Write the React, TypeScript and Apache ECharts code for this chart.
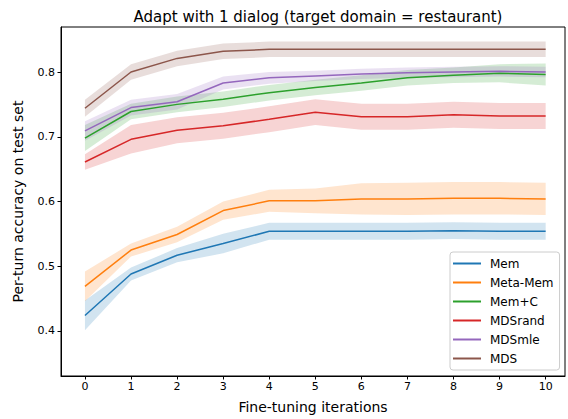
import React, { useEffect, useRef } from "react";
import * as echarts from "echarts";

const iterations = [0, 1, 2, 3, 4, 5, 6, 7, 8, 9, 10];
const seriesNames = ["Mem", "Meta-Mem", "Mem+C", "MDSrand", "MDSmle", "MDS"];
const colors = ["#1f77b4", "#ff7f0e", "#2ca02c", "#d62728", "#9467bd", "#8c564b"];

const memMean = [0.424, 0.488, 0.517, 0.535, 0.554, 0.554, 0.554, 0.554, 0.555, 0.554, 0.554];
const memErr = [0.023, 0.01, 0.011, 0.015, 0.013, 0.013, 0.013, 0.013, 0.013, 0.013, 0.013];
const metaMean = [0.469, 0.525, 0.549, 0.586, 0.601, 0.601, 0.604, 0.604, 0.605, 0.605, 0.604];
const metaErr = [0.023, 0.01, 0.012, 0.014, 0.017, 0.019, 0.024, 0.025, 0.025, 0.025, 0.025];
const memCMean = [0.698, 0.739, 0.75, 0.758, 0.768, 0.776, 0.783, 0.791, 0.795, 0.798, 0.796];
const memCErr = [0.02, 0.012, 0.012, 0.012, 0.012, 0.012, 0.012, 0.012, 0.012, 0.014, 0.017];
const randMean = [0.661, 0.696, 0.71, 0.717, 0.727, 0.738, 0.731, 0.731, 0.734, 0.732, 0.732];
const randErr = [0.012, 0.022, 0.02, 0.02, 0.02, 0.02, 0.02, 0.02, 0.02, 0.02, 0.02];
const mleMean = [0.709, 0.745, 0.754, 0.783, 0.791, 0.794, 0.797, 0.799, 0.8, 0.801, 0.8];
const mleErr = [0.015, 0.012, 0.012, 0.01, 0.009, 0.008, 0.008, 0.008, 0.008, 0.008, 0.008];
const mdsMean = [0.744, 0.8, 0.821, 0.832, 0.835, 0.835, 0.835, 0.835, 0.835, 0.835, 0.835];
const mdsErr = [0.013, 0.012, 0.012, 0.012, 0.012, 0.012, 0.012, 0.012, 0.012, 0.012, 0.012];

const means = [memMean, metaMean, memCMean, randMean, mleMean, mdsMean];
const errs = [memErr, metaErr, memCErr, randErr, mleErr, mdsErr];

const xTicks = [0, 1, 2, 3, 4, 5, 6, 7, 8, 9, 10];
const yTicks = [0.4, 0.5, 0.6, 0.7, 0.8];

const FONT = "DejaVu Sans";

export default function App() {
  const ref = useRef<HTMLDivElement>(null);
  useEffect(() => {
    if (!ref.current) return;
    document.body.style.margin = "0";
    const chart = echarts.init(ref.current, undefined, { renderer: "svg" });
    const series: any[] = [];
    means.forEach((m, i) => {
      const e = errs[i];
      const bandData = iterations.map((x, k) => [x, m[k] - e[k], m[k] + e[k]]);
      series.push({
        name: seriesNames[i] + " band",
        type: "custom",
        silent: true,
        clip: true,
        z: 1,
        encode: { x: 0, y: [1, 2] },
        data: bandData,
        renderItem: (params: any, api: any) => {
          if (params.dataIndex !== 0) return null;
          const upper = bandData.map((d) => api.coord([d[0], d[2]]));
          const lower = bandData.map((d) => api.coord([d[0], d[1]])).reverse();
          return {
            type: "polygon",
            shape: { points: upper.concat(lower) },
            style: { fill: colors[i], opacity: 0.2 },
          };
        },
      });
    });
    means.forEach((m, i) => {
      series.push({
        name: seriesNames[i],
        type: "line",
        symbol: "none",
        color: colors[i],
        lineStyle: { color: colors[i], width: 1.5 },
        data: iterations.map((x, k) => [x, m[k]]),
        z: 3,
      });
    });
    chart.setOption({
      animation: false,
      title: {
        text: "Adapt with 1 dialog (target domain = restaurant)",
        left: 313,
        top: 4,
        textAlign: "center",
        textStyle: { fontFamily: FONT, fontSize: 15, fontWeight: "normal", color: "#000" },
      },
      grid: {
        left: 61,
        right: 3,
        top: 27,
        bottom: 43,
        show: true,
        borderColor: "#000",
        borderWidth: 1,
        backgroundColor: "transparent",
      },
      legend: {
        data: seriesNames,
        orient: "vertical",
        left: 450,
        top: 252,
        icon: "rect",
        itemWidth: 28,
        itemHeight: 2,
        itemGap: 6,
        padding: [5, 6, 5, 3],
        backgroundColor: "rgba(255,255,255,0.85)",
        borderColor: "#ccc",
        borderWidth: 1,
        borderRadius: 3,
        textStyle: { fontFamily: FONT, fontSize: 12, color: "#000", lineHeight: 13, padding: [0, 0, 0, 4] },
      },
      xAxis: {
        type: "value",
        min: -0.52,
        max: 10.42,
        name: "Fine-tuning iterations",
        nameLocation: "middle",
        nameGap: 24,
        nameTextStyle: { fontFamily: FONT, fontSize: 14, color: "#000" },
        splitLine: { show: false },
        axisLine: { show: true, onZero: false, lineStyle: { color: "#000" } },
        axisTick: { show: true, customValues: xTicks, length: 3.5, lineStyle: { color: "#000" } },
        axisLabel: { customValues: xTicks, fontFamily: FONT, fontSize: 11, color: "#000", margin: 5 },
      },
      yAxis: {
        type: "value",
        min: 0.3305,
        max: 0.8695,
        name: "Per-turn accuracy on test set",
        nameLocation: "middle",
        nameGap: 36,
        nameTextStyle: { fontFamily: FONT, fontSize: 14, color: "#000" },
        splitLine: { show: false },
        axisLine: { show: true, onZero: false, lineStyle: { color: "#000" } },
        axisTick: { show: true, customValues: yTicks, length: 3.5, lineStyle: { color: "#000" } },
        axisLabel: {
          customValues: yTicks,
          fontFamily: FONT,
          fontSize: 11,
          color: "#000",
          margin: 6,
          formatter: (v: number) => v.toFixed(1),
        },
      },
      series,
    });
    return () => chart.dispose();
  }, []);
  return <div ref={ref} style={{ width: 568, height: 419 }} />;
}
